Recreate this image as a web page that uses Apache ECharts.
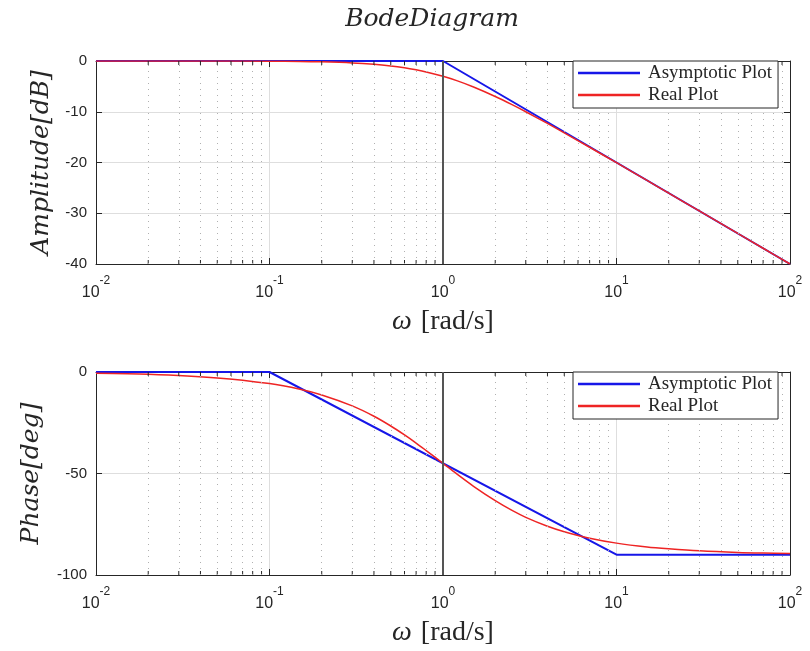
<!DOCTYPE html>
<html>
<head>
<meta charset="utf-8">
<script src="https://cdn.jsdelivr.net/npm/echarts@6/dist/echarts.min.js"></script>
<style>html,body{margin:0;padding:0;background:#fff}#c{width:810px;height:651px}</style>
</head>
<body>
<div id="c"></div>
<script>
// ---- data ----
const ampAsymW = [0.01, 1, 100];
const ampAsymDb = [0, 0, -40];
const ampRealW = [0.01, 0.02, 0.05, 0.1, 0.15, 0.2, 0.3, 0.4, 0.5, 0.6, 0.7, 0.8, 1, 1.2, 1.5, 2, 2.5, 3, 4, 5, 7, 10, 15, 20, 30, 50, 70, 100];
const ampRealDb = [0, 0, -0.01, -0.04, -0.1, -0.17, -0.37, -0.64, -0.97, -1.34, -1.74, -2.15, -3.01, -3.87, -5.12, -6.99, -8.6, -10.0, -12.3, -14.15, -17.0, -20.04, -23.54, -26.03, -29.55, -33.98, -36.9, -40.0];
const phAsymW = [0.01, 0.1, 10, 100];
const phAsymDeg = [0, 0, -90, -90];
const phRealW = [0.01, 0.02, 0.05, 0.1, 0.15, 0.2, 0.3, 0.4, 0.5, 0.6, 0.7, 0.8, 1, 1.2, 1.5, 2, 2.5, 3, 4, 5, 7, 10, 15, 20, 30, 50, 70, 100];
const phRealDeg = [-0.6, -1.1, -2.9, -5.7, -8.5, -11.3, -16.7, -21.8, -26.6, -31.0, -35.0, -38.7, -45.0, -50.2, -56.3, -63.4, -68.2, -71.6, -76.0, -78.7, -81.9, -84.3, -86.2, -87.1, -88.1, -88.9, -89.2, -89.4];
const minorX = [0.02,0.03,0.04,0.05,0.06,0.07,0.08,0.09,0.2,0.3,0.4,0.5,0.6,0.7,0.8,0.9,2,3,4,5,6,7,8,9,20,30,40,50,60,70,80,90];
const legendNames = ['Asymptotic Plot', 'Real Plot'];
const ampRange = [-40, 0, 10];
const phRange = [-100, 0, 50];

const zip = (a, b) => a.map((v, i) => [v, b[i]]);
const ink = '#262626';
const blue = '#1616e8';
const red = '#ee2424';
const serif = 'Liberation Serif';

function xAxisBase(gridIndex, pos, showLabel) {
  return {
    type: 'log', logBase: 10, min: 0.01, max: 100, gridIndex, position: pos,
    axisLine: { show: true, onZero: false, lineStyle: { color: ink, width: 1 } },
    axisTick: { show: true, inside: true, length: 6, lineStyle: { color: ink } },
    axisLabel: {
      show: showLabel, margin: 11, color: ink,
      formatter: v => '{b|10}{s|' + Math.round(Math.log10(v)) + '}',
      rich: {
        b: { fontFamily: 'Liberation Sans', fontSize: 16, color: ink, verticalAlign: 'bottom', lineHeight: 26 },
        s: { fontFamily: 'Liberation Sans', fontSize: 12, color: ink, verticalAlign: 'top', lineHeight: 26 }
      }
    },
    splitLine: { show: showLabel, lineStyle: { color: '#dedede', width: 1 } },
    name: showLabel ? '{w|ω}{r|[rad/s]}' : '',
    nameLocation: 'middle', nameGap: 44,
    nameTextStyle: {
      rich: {
        w: { fontFamily: serif, fontStyle: 'italic', fontSize: 28, color: ink, padding: [0, 9, 0, 0] },
        r: { fontFamily: serif, fontSize: 28, color: ink }
      }
    }
  };
}
function yAxisBase(gridIndex, pos, range, name, gap) {
  const left = pos === 'left';
  return {
    type: 'value', gridIndex, position: pos, min: range[0], max: range[1], interval: range[2],
    axisLine: { show: true, lineStyle: { color: ink, width: 1 } },
    axisTick: { show: true, inside: true, length: 6, lineStyle: { color: ink } },
    axisLabel: { show: left, margin: 9, color: ink, fontFamily: 'Liberation Sans', fontSize: 15 },
    splitLine: { show: left, lineStyle: { color: '#dedede', width: 1 } },
    name: left ? name : '', nameLocation: 'middle', nameGap: gap, nameRotate: 90,
    nameTextStyle: { fontFamily: 'DejaVu Serif', fontStyle: 'italic', fontSize: 25, color: ink }
  };
}
function minorTickSeries(xi, yi, range) {
  return {
    type: 'custom', xAxisIndex: xi, yAxisIndex: yi, silent: true, z: 4, clip: false,
    data: minorX.map(v => [v, range[0]]),
    renderItem: (params, api) => {
      const x = api.value(0);
      const b = api.coord([x, range[0]]);
      const t = api.coord([x, range[1]]);
      const st = { stroke: ink, lineWidth: 1 };
      return { type: 'group', children: [
        { type: 'line', shape: { x1: b[0], y1: b[1], x2: b[0], y2: b[1] - 4 }, style: st },
        { type: 'line', shape: { x1: t[0], y1: t[1], x2: t[0], y2: t[1] + 4 }, style: st }
      ] };
    }
  };
}
function gridLineSeries(xi, yi) {
  return {
    type: 'line', xAxisIndex: xi, yAxisIndex: yi, data: [], silent: true, z: 1,
    markLine: {
      silent: true, symbol: ['none', 'none'], label: { show: false }, animation: false,
      data: minorX.map(v => ({ xAxis: v, lineStyle: { type: [1, 5], color: '#b0b0b0', width: 1 } }))
        .concat([{ xAxis: 1, lineStyle: { type: 'solid', color: '#555', width: 2 } }])
    }
  };
}
function legendAt(top) {
  return {
    data: legendNames, left: 573, top: top, orient: 'vertical',
    backgroundColor: '#fff', borderColor: ink, borderWidth: 1,
    padding: [2, 6, 3, 5], itemGap: 2, itemWidth: 62, itemHeight: 2.5,
    icon: 'rect',
    textStyle: { fontFamily: serif, fontSize: 19, lineHeight: 20, color: ink, padding: [0, 0, 0, 3] }, z: 10
  };
}

const chart = echarts.init(document.getElementById('c'), null, { renderer: 'canvas' });
chart.setOption({
  animation: false,
  backgroundColor: '#fff',
  title: {
    text: 'BodeDiagram', left: 427, top: 2, textAlign: 'center',
    textStyle: { fontFamily: 'DejaVu Serif', fontStyle: 'italic', fontWeight: 'normal', fontSize: 25, color: ink }
  },
  legend: [legendAt(61), legendAt(372)],
  grid: [
    { left: 96, top: 61, width: 694, height: 203 },
    { left: 96, top: 372, width: 694, height: 203 }
  ],
  xAxis: [xAxisBase(0, 'bottom', true), xAxisBase(0, 'top', false), xAxisBase(1, 'bottom', true), xAxisBase(1, 'top', false)],
  yAxis: [
    yAxisBase(0, 'left', ampRange, 'Amplitude[dB]', 40),
    yAxisBase(0, 'right', ampRange, '', 0),
    yAxisBase(1, 'left', phRange, 'Phase[deg]', 52),
    yAxisBase(1, 'right', phRange, '', 0)
  ],
  series: [
    gridLineSeries(0, 0),
    gridLineSeries(2, 2),
    minorTickSeries(0, 0, ampRange),
    minorTickSeries(2, 2, phRange),
    { name: legendNames[0], type: 'line', xAxisIndex: 0, yAxisIndex: 0, data: zip(ampAsymW, ampAsymDb), symbol: 'none', z: 3, lineStyle: { color: blue, width: 2 }, itemStyle: { color: blue } },
    { name: legendNames[1], type: 'line', xAxisIndex: 0, yAxisIndex: 0, data: zip(ampRealW, ampRealDb), symbol: 'none', smooth: 0.3, z: 3, lineStyle: { color: red, width: 1.5 }, itemStyle: { color: red } },
    { name: legendNames[0], type: 'line', xAxisIndex: 2, yAxisIndex: 2, data: zip(phAsymW, phAsymDeg), symbol: 'none', z: 3, lineStyle: { color: blue, width: 2 }, itemStyle: { color: blue } },
    { name: legendNames[1], type: 'line', xAxisIndex: 2, yAxisIndex: 2, data: zip(phRealW, phRealDeg), symbol: 'none', smooth: 0.3, z: 3, lineStyle: { color: red, width: 1.5 }, itemStyle: { color: red } }
  ]
});
</script>
</body>
</html>
